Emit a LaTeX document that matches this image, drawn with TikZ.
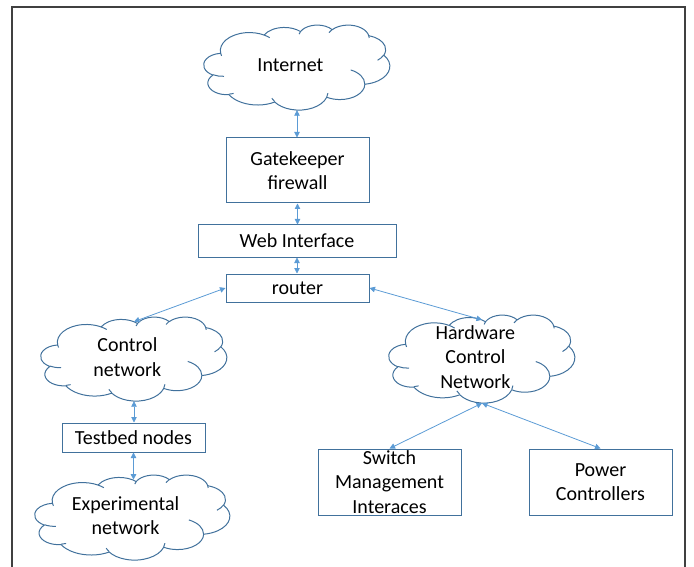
\documentclass[tikz,border=0pt]{standalone}
\usepackage{fontspec}
\setmainfont{Carlito}
\usetikzlibrary{arrows.meta,calc}
\definecolor{shapeblue}{HTML}{41719C}
\definecolor{linkblue}{HTML}{5B9BD5}
\definecolor{framegray}{HTML}{404040}
\tikzset{
  ooa/.code n args={4}{%
    \pgfmathsetmacro\ooS{atan2((#1)*sin(#3),(#2)*cos(#3))}%
    \pgfmathsetmacro\ooE{atan2((#1)*sin((#3)+(#4)),(#2)*cos((#3)+(#4)))}%
    \pgfmathsetmacro\ooD{Mod(\ooE-\ooS,360)}%
    \edef\ootmp{\noexpand\pgfkeysalso{start angle=\ooS, delta angle=\ooD, x radius=#1, y radius=#2}}%
    \ootmp},
  cloudline/.style={draw=shapeblue, line width=1pt, line join=round},
  cloudtext/.style={inner sep=0pt, align=center},
  boxnode/.style={draw=shapeblue, line width=1pt, inner sep=0pt, align=center},
  conn/.style={draw=linkblue, line width=0.8pt, {Triangle[length=5.5pt,width=5.5pt]}-{Triangle[length=5.5pt,width=5.5pt]}},
  framel/.style={draw=framegray, line width=1.2pt}
}
% #1 name, #2 cx, #3 cy, #4 width, #5 height, #6 text
\newcommand\ocloud[6]{%
  \node[inner sep=0pt, minimum width=#4pt, minimum height=#5pt] (#1) at (#2,#3) {};
  \node[cloudtext] (#1-txt) at ($(#1.center)+({-0.0356*#4},{-0.023*#5})$) {#6};
  \begin{scope}[shift={(#1.north west)}, xscale=#4/432, yscale=#5/432]
    \draw[cloudline] (39,143.70)
      arc[ooa={67.53}{91.90}{-190.48748}{123.78053}]
      arc[ooa={53.33}{72.67}{-144.10238}{89.94523}]
      arc[ooa={43.65}{59.45}{-145.80792}{99.72302}]
      arc[ooa={48.57}{65.95}{-130.98607}{117.24173}]
      arc[ooa={53.33}{72.73}{-78.70888}{109.02692}]
      arc[ooa={67.75}{92.20}{-46.26725}{130.269}]
      arc[ooa={57.85}{78.67}{0.62502}{114.03333}]
      arc[ooa={67.52}{92.15}{22.4516}{115.17255}]
      arc[ooa={77.20}{105.43}{66.24263}{75.71102}]
      arc[ooa={43.60}{59.18}{-274.94208}{146.73557}]
      arc[ooa={43.45}{59.45}{-246.8285}{152.51885}]
      -- cycle;
    \draw[cloudline]
      (46.93,261.77) arc[ooa={43.45}{59.45}{86.742}{26.4295}]
      (69.28,348.99) arc[ooa={43.60}{59.18}{73.61047}{11.44747}]
      (164.78,390.90) arc[ooa={67.52}{92.15}{137.62415}{14.0811}]
      (288.27,347.51) arc[ooa={67.52}{92.15}{6.45327}{15.99835}]
      (341.29,229.54) arc[ooa={57.85}{78.67}{-70.29235}{70.91737}]
      (417.98,153.54) arc[ooa={53.33}{72.73}{30.31803}{27.7515}]
      (383.24,54.26) arc[ooa={48.57}{65.95}{-13.74433}{14.8589}]
      (290.78,39.52) arc[ooa={48.57}{65.95}{-149.18145}{18.19537}]
      (221.41,47.20) arc[ooa={43.65}{59.45}{-163.49427}{17.68635}]
      (140.00,51.92) arc[ooa={67.53}{91.90}{-66.70695}{12.31935}]
      (41.27,157.89) arc[ooa={67.53}{91.90}{157.65435}{11.85817}];
  \end{scope}
  \coordinate (#1-t) at ($(#1.north)+(0,{0.0572*#5})$);
}
\begin{document}
\begin{tikzpicture}[x=1pt,y=-1pt, every node/.append style={font=\fontsize{20}{24.4}\selectfont}]
\useasboundingbox (0,0) rectangle (694,567);
% frame
\draw[framel] (12,568) -- (12,7) -- (685,7) -- (685,568);
% clouds
\ocloud{inet}{297}{67.5}{186}{85}{Internet}
\ocloud{ctrl}{134}{359}{186}{84}{Control\\network}
\ocloud{hcn}{482}{359}{186}{88}{Hardware\\Control\\Network}
\ocloud{exp}{132.5}{517.5}{195}{85}{Experimental\\network}
% boxes
\node[boxnode, minimum width=143pt, minimum height=65pt] (gk) at (297.5,170.5) {Gatekeeper\\firewall};
\node[boxnode, minimum width=198pt, minimum height=32pt] (web) at (297,241) {Web Interface};
\node[boxnode, minimum width=143pt, minimum height=28pt] (router) at (297.5,288) {router};
\node[boxnode, minimum width=143pt, minimum height=29pt] (tb) at (133.5,437.5) {Testbed nodes};
\node[boxnode, minimum width=143pt, minimum height=66pt] (sw) at (389.5,482) {Switch\\Management\\Interaces};
\node[boxnode, minimum width=143pt, minimum height=66pt] (pw) at (600.5,482) {Power\\Controllers};
% connectors
\draw[conn] (inet.south) -- (inet.south |- gk.north);
\draw[conn] (gk.south) -- (gk.south |- web.north);
\draw[conn] (web.south) -- (web.south |- router.north);
\draw[conn] (router.west) -- (ctrl-t);
\draw[conn] (router.east) -- (hcn-t);
\draw[conn] (ctrl.south) -- (ctrl.south |- tb.north);
\draw[conn] (tb.south) -- (tb.south |- exp-t);
\draw[conn] (hcn.south) -- (sw.north);
\draw[conn] (hcn.south) -- (pw.north);
\end{tikzpicture}
\end{document}
